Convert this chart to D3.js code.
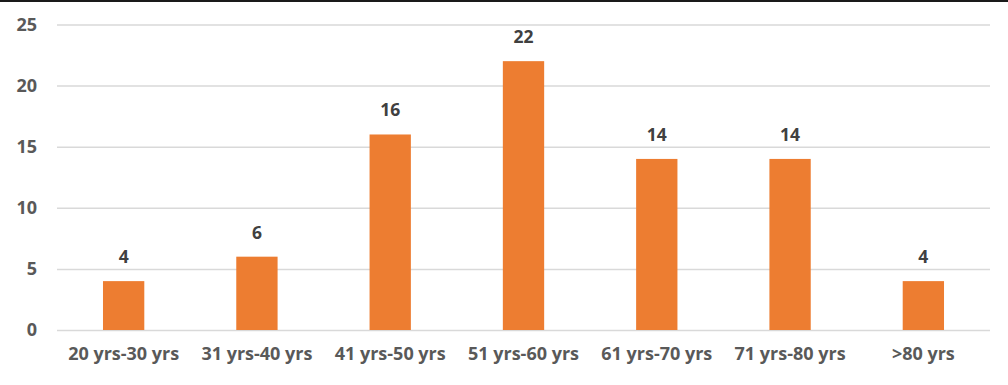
<!DOCTYPE html>
<html><head><meta charset="utf-8">
<script src="https://cdn.jsdelivr.net/npm/d3@7"></script>
<style>body{margin:0;background:#fff;} svg{display:block;}</style>
</head><body>
<svg id="c" width="1008" height="385"></svg>
<script>
const categories = ["20 yrs-30 yrs","31 yrs-40 yrs","41 yrs-50 yrs","51 yrs-60 yrs","61 yrs-70 yrs","71 yrs-80 yrs",">80 yrs"];
const values = [4,6,16,22,14,14,4];
const yTicks = [0,5,10,15,20,25];

const svg = d3.select("#c");
const W = 1008, H = 385;
const m = {left:57, right:18, top:24.5, bottom:55};
const x = d3.scaleBand().domain(categories).range([m.left, W - m.right]).paddingInner(0.69).paddingOuter(0.345);
const y = d3.scaleLinear().domain([0,25]).range([H - m.bottom, m.top]);

svg.append("rect").attr("x",0).attr("y",0).attr("width",W).attr("height",2).attr("fill","#1a1a1a");

const font = "'Open Sans', sans-serif";
const gy = svg.append("g").attr("transform",`translate(${m.left},0)`)
  .call(d3.axisLeft(y).tickValues(yTicks).tickSize(-(W - m.left - m.right)).tickPadding(20));
gy.select(".domain").remove();
gy.selectAll(".tick line").attr("stroke","#d9d9d9").attr("stroke-width",1.5);
gy.selectAll(".tick text").attr("fill","#595959").attr("font-family",font).attr("font-weight","bold").attr("font-size","18px");

const gx = svg.append("g").attr("transform",`translate(0,${H - m.bottom})`)
  .call(d3.axisBottom(x).tickSize(0).tickPadding(17));
gx.select(".domain").remove();
gx.selectAll(".tick text").attr("fill","#595959").attr("font-family",font).attr("font-weight","bold").attr("font-size","18px");

svg.append("g").selectAll("rect").data(values).join("rect")
  .attr("x",(d,i)=>x(categories[i])).attr("width",x.bandwidth())
  .attr("y",d=>y(d)).attr("height",d=>y(0)-y(d)).attr("fill","#ED7D31");

svg.append("g").selectAll("text").data(values).join("text")
  .attr("x",(d,i)=>x(categories[i]) + x.bandwidth()/2).attr("y",d=>y(d)-18)
  .attr("text-anchor","middle").attr("fill","#404040").attr("font-family",font)
  .attr("font-weight","bold").attr("font-size","17.5px").text(d=>d);
</script>
</body></html>
